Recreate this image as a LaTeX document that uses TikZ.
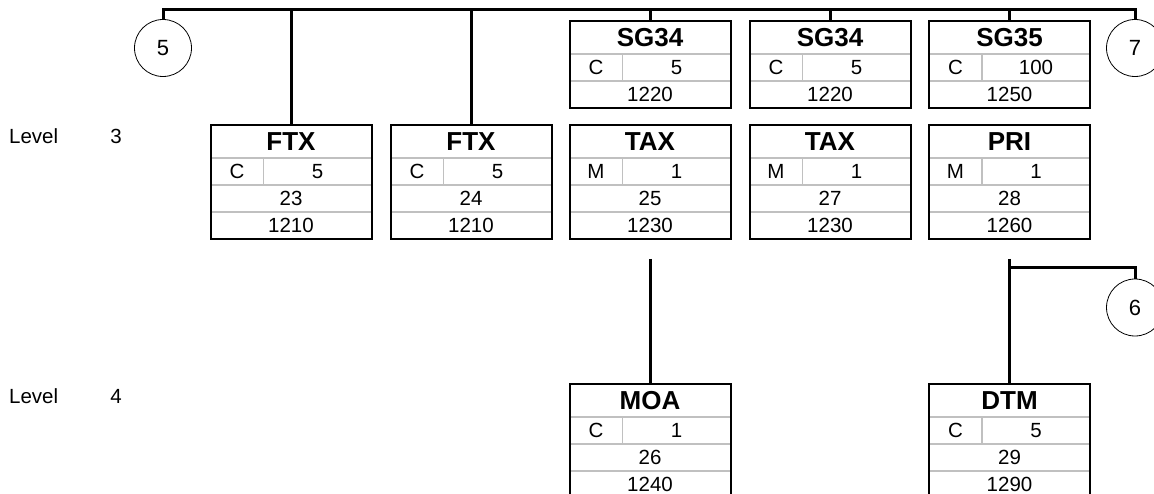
\documentclass[tikz,border=0pt]{standalone}
\usepackage{fontspec}
\setmainfont{Liberation Sans}
\usepackage{tikz}
\usetikzlibrary{shapes,positioning}

\definecolor{cellgrey}{HTML}{C0C0C0}

\tikzset{
 segframe/.style={draw,line width=2pt,minimum width=161pt,inner sep=0pt},
 cellline/.style={draw=cellgrey,line width=1.2pt},
 titletext/.style={font=\fontsize{26}{28}\selectfont\bfseries,inner sep=0pt},
 celltext/.style={font=\fontsize{20.5}{23}\selectfont,inner sep=0pt},
 refcircle/.style={draw,circle,line width=0.8pt,minimum size=57pt,inner sep=0pt,font=\fontsize{22}{24}\selectfont},
 bus/.style={draw,line width=3pt},
}

% segment box: name, x centre, top y, tag, status, repeats, position, number
\newcommand{\segbox}[8]{
 \begin{scope}[shift={(#2,#3)}]
  \draw[cellline] (-80.5,33) -- (80.5,33) (-80.5,60) -- (80.5,60) (-80.5,87) -- (80.5,87) (-27.5,33) -- (-27.5,60);
  \node[titletext] at (0,16.5) {#4};
  \node[celltext] at (-54,46.5) {#5};
  \node[celltext] at (26.5,46.5) {#6};
  \node[celltext] at (0,73.5) {#7};
  \node[celltext] at (0,100.5) {#8};
  \node[segframe,minimum height=114pt] (#1) at (0,57) {};
 \end{scope}
}

% group box: name, x centre, top y, tag, status, repeats, number
\newcommand{\grpbox}[7]{
 \begin{scope}[shift={(#2,#3)}]
  \draw[cellline] (-80.5,33) -- (80.5,33) (-80.5,60) -- (80.5,60) (-27.5,33) -- (-27.5,60);
  \node[titletext] at (0,16.5) {#4};
  \node[celltext] at (-54,46.5) {#5};
  \node[celltext] at (26.5,46.5) {#6};
  \node[celltext] at (0,73.5) {#7};
  \node[segframe,minimum height=87pt] (#1) at (0,43.5) {};
 \end{scope}
}

\begin{document}
\begin{tikzpicture}[x=1pt,y=-1pt]
 \useasboundingbox (0,0) rectangle (1154,494);

 % level labels
 \node[celltext,anchor=west] (lev3) at (9,136) {Level};
 \node[celltext] (lev3n) at (116,136) {3};
 \node[celltext,anchor=west] (lev4) at (9,396) {Level};
 \node[celltext] (lev4n) at (116,396) {4};

 % groups
 \grpbox{sgA}{650}{21}{SG34}{C}{5}{1220}
 \grpbox{sgB}{830}{21}{SG34}{C}{5}{1220}
 \grpbox{sgC}{1009.5}{21}{SG35}{C}{100}{1250}

 % level 3
 \segbox{ftxA}{291}{125}{FTX}{C}{5}{23}{1210}
 \segbox{ftxB}{471}{125}{FTX}{C}{5}{24}{1210}
 \segbox{taxA}{650}{125}{TAX}{M}{1}{25}{1230}
 \segbox{taxB}{830}{125}{TAX}{M}{1}{27}{1230}
 \segbox{pri}{1009.5}{125}{PRI}{M}{1}{28}{1260}

 % level 4
 \segbox{moa}{650}{384}{MOA}{C}{1}{26}{1240}
 \segbox{dtm}{1009.5}{384}{DTM}{C}{5}{29}{1290}

 % page references
 \node[refcircle] (c5) at (163,48) {5};
 \node[refcircle] (c7) at (1135,48) {7};
 \node[refcircle] (c6) at (1135,307.5) {6};

 % connectors
 \coordinate (busR) at (1135,9.5);
 \draw[bus] (c5.north) |- (busR) -- (c7.north);
 \draw[bus] (ftxA.north) -- (ftxA.north |- busR);
 \draw[bus] (ftxB.north) -- (ftxB.north |- busR);
 \draw[bus] (sgA.north) -- (sgA.north |- busR);
 \draw[bus] (sgB.north) -- (sgB.north |- busR);
 \draw[bus] (sgC.north) -- (sgC.north |- busR);

 \coordinate (taxfoot) at (650,259);
 \draw[bus] (taxfoot) -- (moa.north);
 \coordinate (prifoot) at (1009.5,259);
 \coordinate (prijoin) at (1009.5,268);
 \draw[bus] (prifoot) -- (dtm.north);
 \draw[bus] (prijoin) -| (c6.north);
\end{tikzpicture}
\end{document}
